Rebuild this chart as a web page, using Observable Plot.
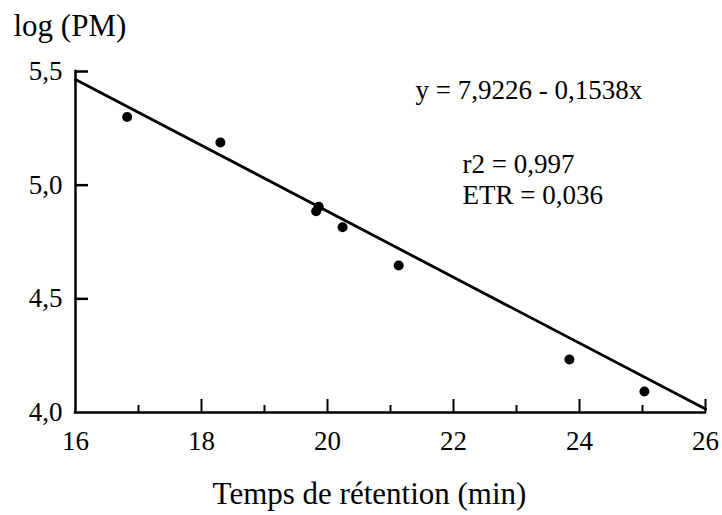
<!DOCTYPE html>
<html><head><meta charset="utf-8">
<script src="https://cdn.jsdelivr.net/npm/d3@7"></script>
<script src="https://cdn.jsdelivr.net/npm/@observablehq/plot@0.6"></script>
<style>html,body{margin:0;padding:0;background:#fff} svg{display:block} svg text{font-family:"Liberation Serif","Times New Roman",serif !important}</style>
</head><body><div id="chart"></div>
<script>
// Data
const retention = [16.82, 18.30, 19.82, 19.86, 20.24, 21.13, 23.84, 25.03];
const logPM     = [5.300, 5.188, 4.885, 4.905, 4.815, 4.647, 4.233, 4.092];
const fitX = [16, 26];
const fitY = [5.465, 4.015];
const xTicks = [16, 18, 20, 22, 24, 26];
const xMinorTicks = [17, 19, 21, 23, 25];
const yTicks = [4.0, 4.5, 5.0, 5.5];
const yTickLabels = ["4,0", "4,5", "5,0", "5,5"];
const xLabel = "Temps de rétention (min)";
const yLabel = "log (PM)";
const equation = "y = 7,9226 - 0,1538x";
const r2Text = "r2 = 0,997";
const etrText = "ETR = 0,036";

const points = retention.map((x, i) => ({x, y: logPM[i]}));
const fit = fitX.map((x, i) => ({x, y: fitY[i]}));

const W = 722, H = 515, mL = 75, mR = 17, mT = 71, mB = 103;
const pw = W - mL - mR, ph = H - mT - mB;
const font = "'Liberation Serif', 'Times New Roman', serif";

const chart = Plot.plot({
  width: W, height: H,
  marginLeft: mL, marginRight: mR, marginTop: mT, marginBottom: mB,
  style: {fontFamily: font, background: "#fff", color: "#000", overflow: "visible"},
  x: {domain: [16, 26]},
  y: {domain: [4, 5.5]},
  marks: [
    Plot.ruleX([16], {stroke: "#000", strokeWidth: 2.5, strokeLinecap: "square"}),
    Plot.ruleY([4], {stroke: "#000", strokeWidth: 2.5, strokeLinecap: "square"}),
    Plot.tickY(yTicks.filter(v => v > 4), {y: d => d, stroke: "#000", strokeWidth: 2.5, insetRight: pw - 13}),
    Plot.tickX(xTicks.filter(v => v > 16), {x: d => d, stroke: "#000", strokeWidth: 2, insetTop: ph - 13}),
    Plot.tickX(xMinorTicks, {x: d => d, stroke: "#000", strokeWidth: 2, insetTop: ph - 7}),
    Plot.axisX({ticks: xTicks, tickSize: 0, tickPadding: 18, fontSize: 27, fontFamily: font, label: null, tickFormat: d => String(d)}),
    Plot.axisY({ticks: yTicks, tickSize: 0, tickPadding: 13, fontSize: 27, fontFamily: font, label: null, tickFormat: d => yTickLabels[yTicks.indexOf(d)]}),
    Plot.line(fit, {x: "x", y: "y", stroke: "#000", strokeWidth: 2.8}),
    Plot.dot(points, {x: "x", y: "y", r: 5, fill: "#000"}),
    Plot.text([yLabel], {frameAnchor: "top-left", text: d => d, dx: -62, dy: -36, textAnchor: "start", lineAnchor: "bottom", fontSize: 31, fontFamily: font, fill: "#000"}),
    Plot.text([equation], {frameAnchor: "top-left", text: d => d, dx: 340, dy: 27, textAnchor: "start", lineAnchor: "bottom", fontSize: 27, fontFamily: font, fill: "#000"}),
    Plot.text([r2Text], {frameAnchor: "top-left", text: d => d, dx: 387, dy: 101, textAnchor: "start", lineAnchor: "bottom", fontSize: 27, fontFamily: font, fill: "#000"}),
    Plot.text([etrText], {frameAnchor: "top-left", text: d => d, dx: 387, dy: 132, textAnchor: "start", lineAnchor: "bottom", fontSize: 27, fontFamily: font, fill: "#000"}),
    Plot.text([xLabel], {frameAnchor: "bottom", text: d => d, dx: -21, dy: 91, textAnchor: "middle", lineAnchor: "bottom", fontSize: 31, fontFamily: font, fill: "#000"})
  ]
});
document.getElementById("chart").appendChild(chart);
</script>
</body></html>
